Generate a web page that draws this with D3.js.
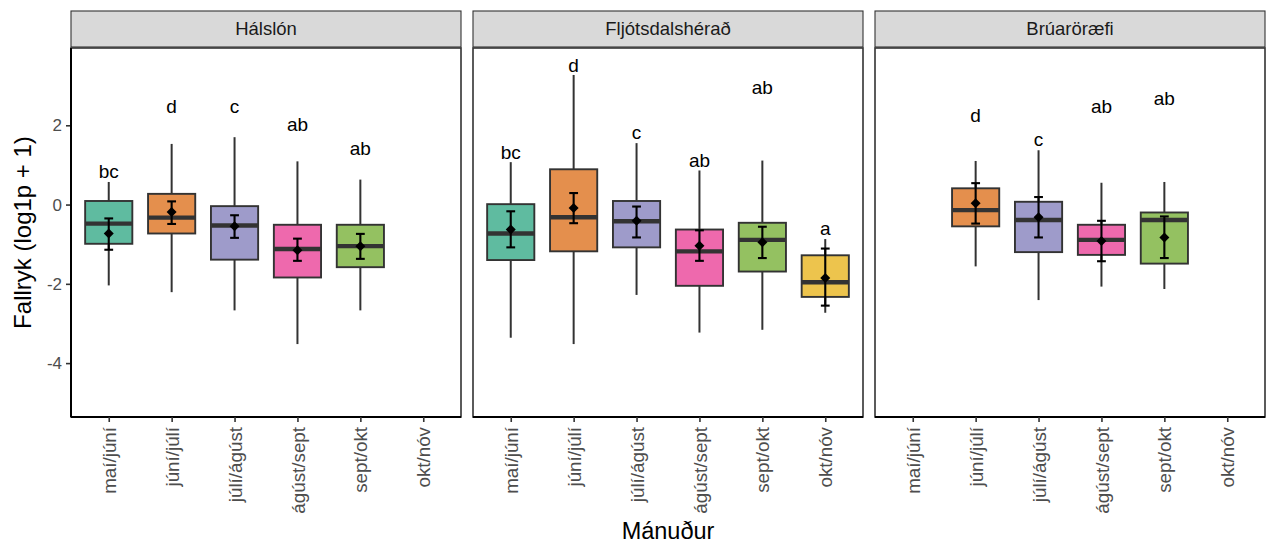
<!DOCTYPE html>
<html>
<head>
<meta charset="utf-8">
<script src="https://cdn.jsdelivr.net/npm/d3@7"></script>
<style>
  html, body { margin: 0; padding: 0; background: #fff; }
  svg { display: block; font-family: "Liberation Sans", Arial, sans-serif; }
</style>
</head>
<body>
<svg id="chart" width="1266" height="546"></svg>
<script>
// ---- data ----
const sites = ["Hálslón", "Fljótsdalshérað", "Brúaröræfi"];
const months = ["maí/júní", "júní/júlí", "júlí/ágúst", "ágúst/sept", "sept/okt", "okt/nóv"];
const yTicks = [-4, -2, 0, 2];
const colors = ["#1B9E77", "#D95F02", "#7570B3", "#E7298A", "#66A61E", "#E6AB02"];

// per site (row) and month (column); null = no data
const whiskerMin = [
  [-2.04, -2.21, -2.67, -3.52, -2.67, null],
  [-3.36, -3.52, -2.28, -3.23, -3.16, -2.73],
  [null, -1.56, -2.41, -2.07, -2.13, null]
];
const q1 = [
  [-0.99, -0.73, -1.39, -1.84, -1.58, null],
  [-1.40, -1.18, -1.08, -2.05, -1.69, -2.33],
  [null, -0.55, -1.20, -1.27, -1.49, null]
];
const median = [
  [-0.48, -0.33, -0.53, -1.12, -1.05, null],
  [-0.73, -0.32, -0.42, -1.18, -0.89, -1.96],
  [null, -0.14, -0.39, -0.89, -0.39, null]
];
const q3 = [
  [0.09, 0.27, -0.04, -0.51, -0.51, null],
  [0.01, 0.89, 0.09, -0.63, -0.46, -1.28],
  [null, 0.41, 0.07, -0.51, -0.20, null]
];
const whiskerMax = [
  [0.57, 1.53, 1.70, 1.09, 0.63, null],
  [1.07, 3.27, 1.55, 0.86, 1.11, -0.87],
  [null, 1.10, 1.37, 0.55, 0.57, null]
];
const means = [
  [-0.73, -0.19, -0.55, -1.15, -1.05, null],
  [-0.63, -0.09, -0.41, -1.04, -0.95, -1.85],
  [null, 0.03, -0.32, -0.92, -0.83, null]
];
const errLow = [
  [-1.14, -0.49, -0.84, -1.42, -1.37, null],
  [-1.08, -0.47, -0.83, -1.42, -1.35, -2.55],
  [null, -0.48, -0.83, -1.43, -1.35, null]
];
const errHigh = [
  [-0.35, 0.08, -0.27, -0.86, -0.74, null],
  [-0.17, 0.29, -0.05, -0.65, -0.56, -1.11],
  [null, 0.54, 0.19, -0.41, -0.30, null]
];
const letters = [
  ["bc", "d", "c", "ab", "ab", null],
  ["bc", "d", "c", "ab", "ab", "a"],
  [null, "d", "c", "ab", "ab", null]
];
const letterY = [
  [0.84, 2.48, 2.48, 2.03, 1.42, null],
  [1.33, 3.51, 1.82, 1.12, 2.97, -0.60],
  [null, 2.25, 1.64, 2.47, 2.68, null]
];

// ---- layout ----
const panelW = 390, panelGap = 12, panelX0 = 71;
const panelTop = 48, panelBottom = 417;
const stripTop = 11, stripH = 36;
const FONT = '"Liberation Sans", Arial, sans-serif';

const svg = d3.select("#chart");
svg.append("rect").attr("width", 1266).attr("height", 546).attr("fill", "#fff");

const y = d3.scaleLinear().domain([-5.36, 3.95]).range([panelBottom, panelTop]);

sites.forEach((site, si) => {
  const left = panelX0 + si * (panelW + panelGap);
  const x = d3.scalePoint().domain(months).range([left, left + panelW]).padding(0.6);
  const bw = x.step() * 0.75;
  const g = svg.append("g");

  // strip
  g.append("rect").attr("x", left).attr("y", stripTop).attr("width", panelW).attr("height", stripH)
    .attr("fill", "#d9d9d9").attr("stroke", "#333").attr("stroke-width", 1.1);
  g.append("text").attr("x", left + panelW / 2).attr("y", stripTop + stripH / 2)
    .attr("dy", "0.35em").attr("text-anchor", "middle").attr("font-size", 18.5)
    .attr("fill", "#1a1a1a").text(site);

  const rows = months.map((m, i) => ({
    m, i, lo: whiskerMin[si][i], q1: q1[si][i], med: median[si][i], q3: q3[si][i],
    hi: whiskerMax[si][i], mean: means[si][i], el: errLow[si][i], eh: errHigh[si][i],
    lab: letters[si][i], ly: letterY[si][i]
  })).filter(d => d.med !== null);

  // whiskers
  g.selectAll(".wl").data(rows).join("line")
    .attr("x1", d => x(d.m)).attr("x2", d => x(d.m))
    .attr("y1", d => y(d.lo)).attr("y2", d => y(d.q1))
    .attr("stroke", "#333").attr("stroke-width", 2);
  g.selectAll(".wh").data(rows).join("line")
    .attr("x1", d => x(d.m)).attr("x2", d => x(d.m))
    .attr("y1", d => y(d.q3)).attr("y2", d => y(d.hi))
    .attr("stroke", "#333").attr("stroke-width", 2);

  // boxes
  g.selectAll(".bx").data(rows).join("rect")
    .attr("x", d => x(d.m) - bw / 2).attr("width", bw)
    .attr("y", d => y(d.q3)).attr("height", d => y(d.q1) - y(d.q3))
    .attr("fill", d => colors[d.i]).attr("fill-opacity", 0.7)
    .attr("stroke", "#333").attr("stroke-width", 1.9);

  // medians
  g.selectAll(".md").data(rows).join("line")
    .attr("x1", d => x(d.m) - bw / 2).attr("x2", d => x(d.m) + bw / 2)
    .attr("y1", d => y(d.med)).attr("y2", d => y(d.med))
    .attr("stroke", "#333").attr("stroke-width", 4.4);

  // error bars
  const cap = 4.4;
  g.selectAll(".eb").data(rows).join("line")
    .attr("x1", d => x(d.m)).attr("x2", d => x(d.m))
    .attr("y1", d => y(d.el)).attr("y2", d => y(d.eh))
    .attr("stroke", "#000").attr("stroke-width", 2.1);
  g.selectAll(".ebl").data(rows).join("line")
    .attr("x1", d => x(d.m) - cap).attr("x2", d => x(d.m) + cap)
    .attr("y1", d => y(d.el)).attr("y2", d => y(d.el))
    .attr("stroke", "#000").attr("stroke-width", 2.1);
  g.selectAll(".ebh").data(rows).join("line")
    .attr("x1", d => x(d.m) - cap).attr("x2", d => x(d.m) + cap)
    .attr("y1", d => y(d.eh)).attr("y2", d => y(d.eh))
    .attr("stroke", "#000").attr("stroke-width", 2.1);

  // mean diamonds
  const sym = d3.symbol().type(d3.symbolSquare).size(50);
  g.selectAll(".mn").data(rows).join("path")
    .attr("d", sym)
    .attr("transform", d => `translate(${x(d.m)},${y(d.mean)}) rotate(45)`)
    .attr("fill", "#000");

  // letters
  g.selectAll(".lt").data(rows.filter(d => d.lab)).join("text")
    .attr("x", d => x(d.m)).attr("y", d => y(d.ly)).attr("dy", "0.36em")
    .attr("text-anchor", "middle").attr("font-size", 19).attr("fill", "#000")
    .text(d => d.lab);

  // panel border
  g.append("rect").attr("x", left).attr("y", panelTop).attr("width", panelW)
    .attr("height", panelBottom - panelTop).attr("fill", "none")
    .attr("stroke", "#333").attr("stroke-width", 1.6);
  // bottom axis line
  g.append("line").attr("x1", left).attr("x2", left + panelW)
    .attr("y1", panelBottom).attr("y2", panelBottom)
    .attr("stroke", "#000").attr("stroke-width", 2.2);

  // x axis
  const xAxis = d3.axisBottom(x).tickSize(5).tickPadding(4).tickSizeOuter(0);
  const xg = svg.append("g").attr("transform", `translate(0,${panelBottom})`).call(xAxis);
  xg.select(".domain").remove();
  xg.selectAll(".tick line").attr("stroke", "#333").attr("stroke-width", 1.6);
  xg.selectAll(".tick text")
    .attr("font-family", FONT).attr("font-size", 18.8).attr("fill", "#4d4d4d")
    .attr("text-anchor", "end").attr("transform", "rotate(-90)")
    .attr("x", -10).attr("y", 0).attr("dy", "0.35em");

  if (si === 0) {
    const yAxis = d3.axisLeft(y).tickValues(yTicks).tickSize(5).tickPadding(4)
      .tickFormat(d3.format("d"));
    const yg = svg.append("g").attr("transform", `translate(${left},0)`).call(yAxis);
    yg.select(".domain").remove();
    yg.selectAll(".tick line").attr("stroke", "#333").attr("stroke-width", 1.6);
    yg.selectAll(".tick text").attr("font-family", FONT).attr("font-size", 17)
      .attr("fill", "#4d4d4d").text(d => d < 0 ? "-" + Math.abs(d) : d);
    svg.append("line").attr("x1", left).attr("x2", left)
      .attr("y1", panelTop).attr("y2", panelBottom)
      .attr("stroke", "#000").attr("stroke-width", 2);
  }
});

// axis titles
svg.append("text").attr("transform", `translate(31,${(panelTop + panelBottom) / 2}) rotate(-90)`)
  .attr("text-anchor", "middle").attr("font-size", 24).attr("fill", "#000")
  .text("Fallryk (log1p + 1)");
svg.append("text").attr("x", panelX0 + (3 * panelW + 2 * panelGap) / 2).attr("y", 539)
  .attr("text-anchor", "middle").attr("font-size", 23.5).attr("fill", "#000")
  .text("Mánuður");
</script>
</body>
</html>
